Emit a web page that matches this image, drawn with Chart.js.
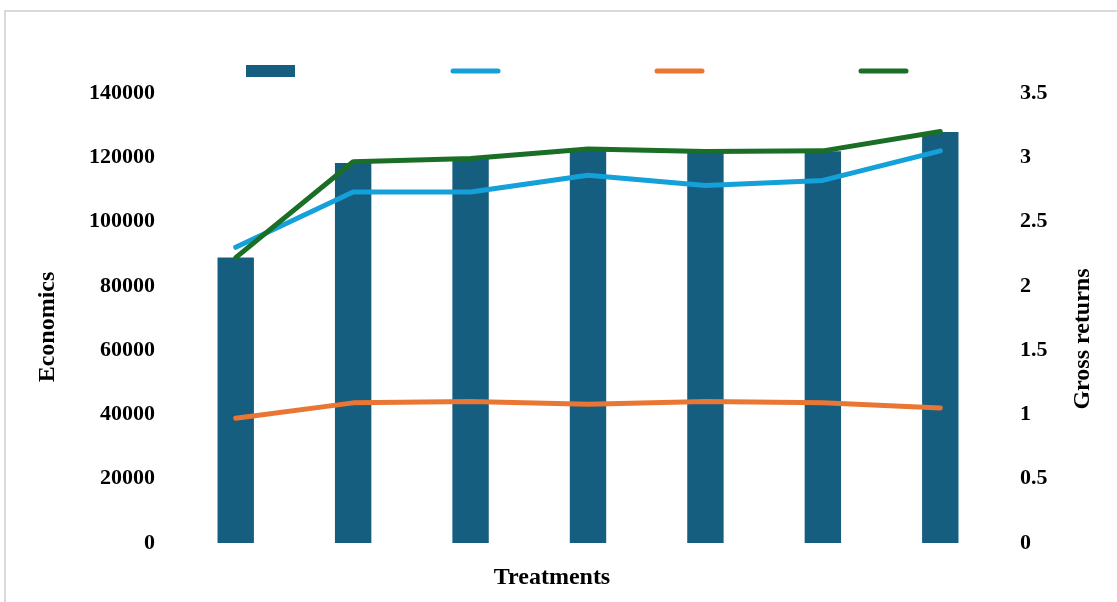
<!DOCTYPE html>
<html>
<head>
<meta charset="utf-8">
<script src="https://cdn.jsdelivr.net/npm/chart.js@4.4.1/dist/chart.umd.min.js"></script>
<style>
  html, body { margin: 0; padding: 0; background: #ffffff; overflow: hidden; }
  #frame { position: absolute; left: 4px; top: 10px; width: 1200px; height: 700px; border: 2px solid #d9d9d9; }
  #wrap { position: absolute; left: 0; top: 0; width: 1117px; height: 602px; }
</style>
</head>
<body>
<div id="frame"></div>
<div id="wrap"><canvas id="chart" width="1117" height="602"></canvas></div>
<script>
// Treatments (category axis, labels not shown)
const categories = ['T1', 'T2', 'T3', 'T4', 'T5', 'T6', 'T7'];

// Economics (left axis, bars)
const economics = [88800, 118200, 119500, 122400, 121700, 121900, 127900];

// Gross returns (right axis, lines)
const returnsBlue   = [2.30, 2.73, 2.73, 2.86, 2.78, 2.82, 3.05];
const returnsOrange = [0.97, 1.09, 1.10, 1.08, 1.10, 1.09, 1.05];
const returnsGreen  = [2.22, 2.965, 2.99, 3.065, 3.045, 3.05, 3.20];

// Tick values for the two value axes
const leftTicks  = [0, 20000, 40000, 60000, 80000, 100000, 120000, 140000];
const rightTicks = [0, 0.5, 1, 1.5, 2, 2.5, 3, 3.5];

const BAR = '#165e80';
const BLUE = '#14a0d8';
const ORANGE = '#ea7633';
const GREEN = '#1b6e26';
const SERIF = '"Liberation Serif", "Times New Roman", serif';

// Swatch-only legend row above the plot
const swatchLegend = {
  id: 'swatchLegend',
  afterDraw(chart) {
    const ctx = chart.ctx;
    const gap = 204, swW = 49, cy = 71;
    const total = gap * (chart.data.datasets.length - 1) + swW;
    const x0 = Math.round((chart.chartArea.left + chart.chartArea.right) / 2 - total / 2 - 12);
    ctx.save();
    chart.data.datasets.forEach((ds, i) => {
      const x = x0 + i * gap;
      if (ds.type === 'bar') {
        ctx.fillStyle = ds.backgroundColor;
        ctx.fillRect(x, cy - 6, swW, 12);
      } else {
        ctx.strokeStyle = ds.borderColor;
        ctx.lineWidth = 5;
        ctx.lineCap = 'round';
        ctx.beginPath();
        ctx.moveTo(x + 3, cy);
        ctx.lineTo(x + swW - 1, cy);
        ctx.stroke();
      }
    });
    ctx.restore();
  }
};

// Axis titles
const axisTitles = {
  id: 'axisTitles',
  afterDraw(chart) {
    const ctx = chart.ctx;
    const a = chart.chartArea;
    const midY = (a.top + a.bottom) / 2;
    const midX = (a.left + a.right) / 2;
    ctx.save();
    ctx.fillStyle = '#000';
    ctx.font = 'bold 24px ' + SERIF;
    ctx.textAlign = 'center';
    ctx.textBaseline = 'middle';

    ctx.save();
    ctx.translate(a.left - 129, midY + 9);
    ctx.rotate(-Math.PI / 2);
    ctx.fillText('Economics', 0, 0);
    ctx.restore();

    ctx.save();
    ctx.translate(a.right + 84, midY + 21);
    ctx.rotate(-Math.PI / 2);
    ctx.fillText('Gross returns', 0, 0);
    ctx.restore();

    ctx.fillText('Treatments', midX - 36, a.bottom + 35);
    ctx.restore();
  }
};

const lineDs = (data, color, order) => ({
  type: 'line',
  data,
  yAxisID: 'y1',
  borderColor: color,
  backgroundColor: color,
  borderWidth: 5,
  borderCapStyle: 'round',
  borderJoinStyle: 'round',
  pointRadius: 0,
  pointHoverRadius: 0,
  tension: 0,
  fill: false,
  order
});

new Chart(document.getElementById('chart'), {
  data: {
    labels: categories,
    datasets: [
      {
        type: 'bar',
        data: economics,
        yAxisID: 'y',
        backgroundColor: BAR,
        borderWidth: 0,
        categoryPercentage: 1,
        barPercentage: 0.31,
        order: 10
      },
      lineDs(returnsBlue, BLUE, 3),
      lineDs(returnsOrange, ORANGE, 2),
      lineDs(returnsGreen, GREEN, 1)
    ]
  },
  options: {
    responsive: false,
    animation: false,
    devicePixelRatio: 1,
    layout: { padding: { left: 0, right: 0, top: 93, bottom: 59 } },
    plugins: {
      legend: { display: false },
      tooltip: { enabled: false },
      title: { display: false }
    },
    scales: {
      x: {
        type: 'category',
        display: false,
        offset: true,
        grid: { display: false }
      },
      y: {
        position: 'left',
        min: 0,
        max: 140000,
        grid: { display: false, drawTicks: false },
        border: { display: false },
        afterBuildTicks(scale) { scale.ticks = leftTicks.map(v => ({ value: v })); },
        afterFit(scale) { scale.width = 177; },
        ticks: {
          padding: 22,
          color: '#000',
          font: { family: SERIF, size: 22, weight: 'bold' },
          callback: v => String(v)
        }
      },
      y1: {
        position: 'right',
        min: 0,
        max: 3.5,
        grid: { display: false, drawTicks: false },
        border: { display: false },
        afterBuildTicks(scale) { scale.ticks = rightTicks.map(v => ({ value: v })); },
        afterFit(scale) { scale.width = 118; },
        ticks: {
          padding: 21,
          color: '#000',
          font: { family: SERIF, size: 22, weight: 'bold' },
          callback: v => String(v)
        }
      }
    }
  },
  plugins: [swatchLegend, axisTitles]
});
</script>
</body>
</html>
